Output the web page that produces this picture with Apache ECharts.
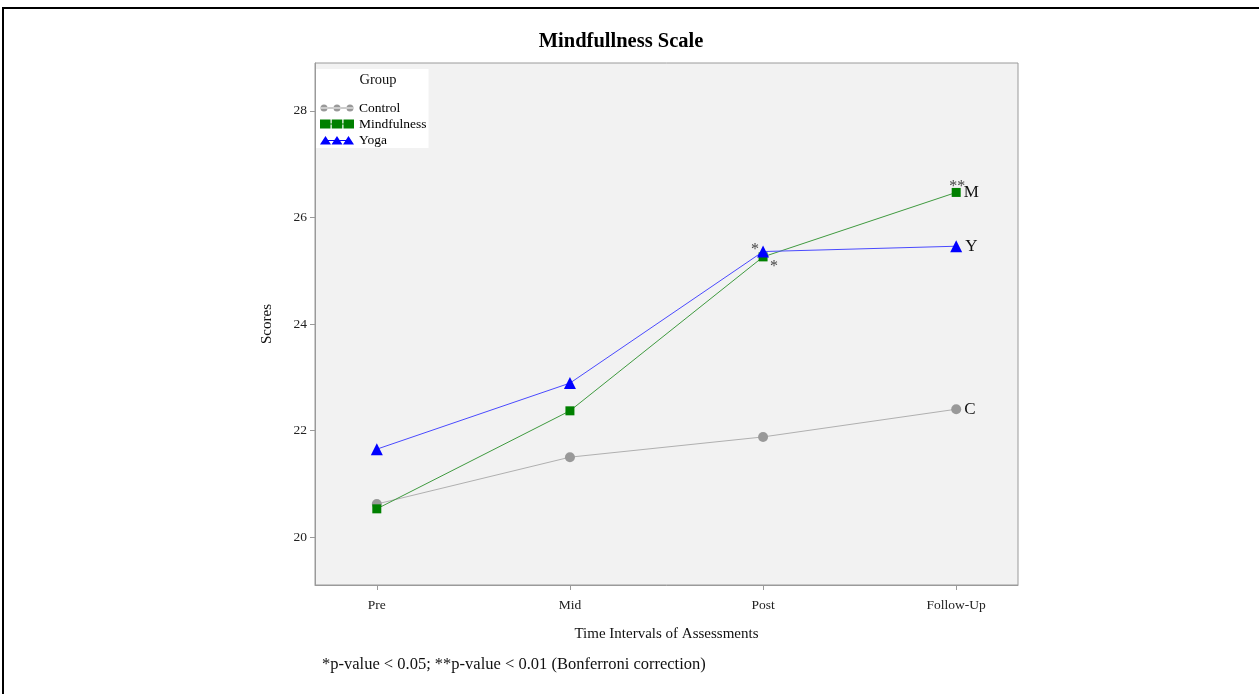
<!DOCTYPE html>
<html>
<head>
<meta charset="utf-8">
<script src="https://cdn.jsdelivr.net/npm/echarts@6/dist/echarts.min.js"></script>
<style>
  html, body { margin: 0; padding: 0; background: #fff; }
  #chart { width: 1259px; height: 694px; }
</style>
</head>
<body>
<div id="chart"></div>
<script>
// Assessment points and mean scores per group
const timepoints = ['Pre', 'Mid', 'Post', 'Follow-Up'];
const controlScores = [20.62, 21.50, 21.88, 22.40];
const mindfulnessScores = [20.53, 22.37, 25.26, 26.47];
const yogaScores = [21.65, 22.89, 25.36, 25.46];
const yTicks = [20, 22, 24, 26, 28];

// Group initials shown after the last point, and significance stars per point
const groupNames = ['Control', 'Mindfulness', 'Yoga'];
const endLabels = ['C', 'M', 'Y'];
const controlStars = ['', '', '', ''];
const mindfulnessStars = ['', '', '*', '**'];
const yogaStars = ['', '', '*', ''];

const SERIF = '"Liberation Serif", "DejaVu Serif", serif';

const toPoints = vals => vals.map((v, i) => [i + 1, v]);

// Legend glyphs: three markers joined by a line, 34 x 9 box
const iconControl = 'path://M0,0L0.01,0Z M34,9L34.01,9Z M1,4H33V5H1Z ' +
  'M0.5,4.5A3.5,3.5 0 1 0 7.5,4.5A3.5,3.5 0 1 0 0.5,4.5Z ' +
  'M13.5,4.5A3.5,3.5 0 1 0 20.5,4.5A3.5,3.5 0 1 0 13.5,4.5Z ' +
  'M26.5,4.5A3.5,3.5 0 1 0 33.5,4.5A3.5,3.5 0 1 0 26.5,4.5Z';
const iconMindfulness = 'path://M0,0H10.5V9H0Z M10.5,4H11.75V5H10.5Z M11.75,0H22.25V9H11.75Z M22.25,4H23.5V5H22.25Z M23.5,0H34V9H23.5Z';
const iconYoga = 'path://M0,0L0.01,0Z M34,9L34.01,9Z M5,4.6H29V5.6H5Z ' +
  'M5.5,0.5L11,9H0Z M17,0.5L22.5,9H11.5Z M28.5,0.5L34,9H23Z';

function starMarks(vals, stars, offsets) {
  const out = [];
  stars.forEach((s, i) => {
    if (s) {
      out.push({
        coord: [i + 1, vals[i]],
        label: { formatter: s, offset: offsets[i] || [0, 0] }
      });
    }
  });
  return out;
}

function makeSeries(name, vals, stars, endLabel, opts) {
  const data = toPoints(vals).map((p, i) => {
    const item = { value: p };
    if (i === vals.length - 1) {
      item.label = {
        show: true, position: 'right', distance: 3,
        formatter: endLabel, fontFamily: SERIF, fontSize: 17, color: '#111'
      };
    }
    return item;
  });
  return {
    name: name,
    type: 'line',
    data: data,
    symbol: opts.symbol,
    symbolSize: opts.symbolSize,
    itemStyle: { color: opts.marker },
    lineStyle: { color: opts.line, width: 1 },
    z: opts.z,
    animation: false,
    markPoint: {
      symbol: 'circle',
      symbolSize: 0,
      silent: true,
      label: {
        show: true, position: 'inside', fontFamily: SERIF,
        fontSize: 16, color: '#444'
      },
      data: starMarks(vals, stars, opts.starOffsets)
    }
  };
}

const chart = echarts.init(document.getElementById('chart'), null, { renderer: 'canvas' });

chart.setOption({
  backgroundColor: '#ffffff',
  animation: false,
  title: {
    text: 'Mindfullness Scale',
    left: 616, top: 26, textAlign: 'center',
    textStyle: { fontFamily: SERIF, fontSize: 20.5, fontWeight: 'bold', color: '#000' }
  },
  grid: {
    left: 315, top: 63, width: 703, height: 522,
    show: true, backgroundColor: '#f2f2f2', borderColor: '#9a9a9a', borderWidth: 1
  },
  legend: {
    orient: 'vertical',
    left: 316, top: 69,
    padding: [32, 2, 1, 4],
    backgroundColor: '#ffffff',
    itemWidth: 34, itemHeight: 9, itemGap: 2,
    symbolKeepAspect: false,
    selectedMode: false,
    itemStyle: { borderWidth: 0 },
    textStyle: {
      fontFamily: SERIF, fontSize: 13.5, lineHeight: 12, color: '#000', padding: [0, 0, 0, 0]
    },
    data: [
      { name: groupNames[0], icon: iconControl, itemStyle: { color: '#999999' } },
      { name: groupNames[1], icon: iconMindfulness, itemStyle: { color: '#008000' } },
      { name: groupNames[2], icon: iconYoga, itemStyle: { color: '#0000ff' } }
    ]
  },
  xAxis: {
    type: 'value',
    min: 0.68, max: 4.32,
    name: 'Time Intervals of Assessments',
    nameLocation: 'middle', nameGap: 42,
    nameTextStyle: { fontFamily: SERIF, fontSize: 15, color: '#111' },
    axisLine: { show: true, lineStyle: { color: '#9a9a9a' } },
    axisTick: { show: true, length: 5, lineStyle: { color: '#9a9a9a' }, customValues: [1, 2, 3, 4] },
    axisLabel: {
      customValues: [1, 2, 3, 4],
      formatter: v => timepoints[Math.round(v) - 1] || '',
      fontFamily: SERIF, fontSize: 13.5, color: '#222', margin: 13
    },
    splitLine: { show: false }
  },
  yAxis: {
    type: 'value',
    min: 19.1, max: 28.9,
    name: 'Scores',
    nameLocation: 'middle', nameGap: 40, nameRotate: 90,
    nameTextStyle: { fontFamily: SERIF, fontSize: 15, color: '#111' },
    axisLine: { show: true, lineStyle: { color: '#9a9a9a' } },
    axisTick: { show: true, length: 5, lineStyle: { color: '#9a9a9a' }, customValues: yTicks },
    axisLabel: {
      customValues: yTicks,
      fontFamily: SERIF, fontSize: 13.5, color: '#222', margin: 8
    },
    splitLine: { show: false }
  },
  series: [
    makeSeries(groupNames[0], controlScores, controlStars, endLabels[0], {
      symbol: 'circle', symbolSize: 10, marker: '#999999', line: '#b0b0b0', z: 2, starOffsets: []
    }),
    makeSeries(groupNames[1], mindfulnessScores, mindfulnessStars, endLabels[1], {
      symbol: 'rect', symbolSize: 9, marker: '#008000', line: '#3f9a3f', z: 3,
      starOffsets: [null, null, [11, 10], [1, -6]]
    }),
    makeSeries(groupNames[2], yogaScores, yogaStars, endLabels[2], {
      symbol: 'triangle', symbolSize: 12, marker: '#0000ff', line: '#4a4aff', z: 4,
      starOffsets: [null, null, [-8, -2]]
    })
  ],
  graphic: [
    {
      type: 'rect', silent: true, z: 100,
      shape: { x: 3, y: 8, width: 1300, height: 800 },
      style: { fill: null, stroke: '#000', lineWidth: 2 }
    },
    {
      type: 'text', silent: true, z: 100,
      x: 378, y: 80,
      style: {
        text: 'Group', fontFamily: SERIF, fontSize: 14.5, fill: '#111',
        align: 'center', verticalAlign: 'middle'
      }
    },
    {
      type: 'text', silent: true, z: 100,
      x: 322, y: 665,
      style: {
        text: '*p-value < 0.05; **p-value < 0.01 (Bonferroni correction)',
        fontFamily: SERIF, fontSize: 16.5, fill: '#111',
        align: 'left', verticalAlign: 'middle'
      }
    }
  ]
});
</script>
</body>
</html>
